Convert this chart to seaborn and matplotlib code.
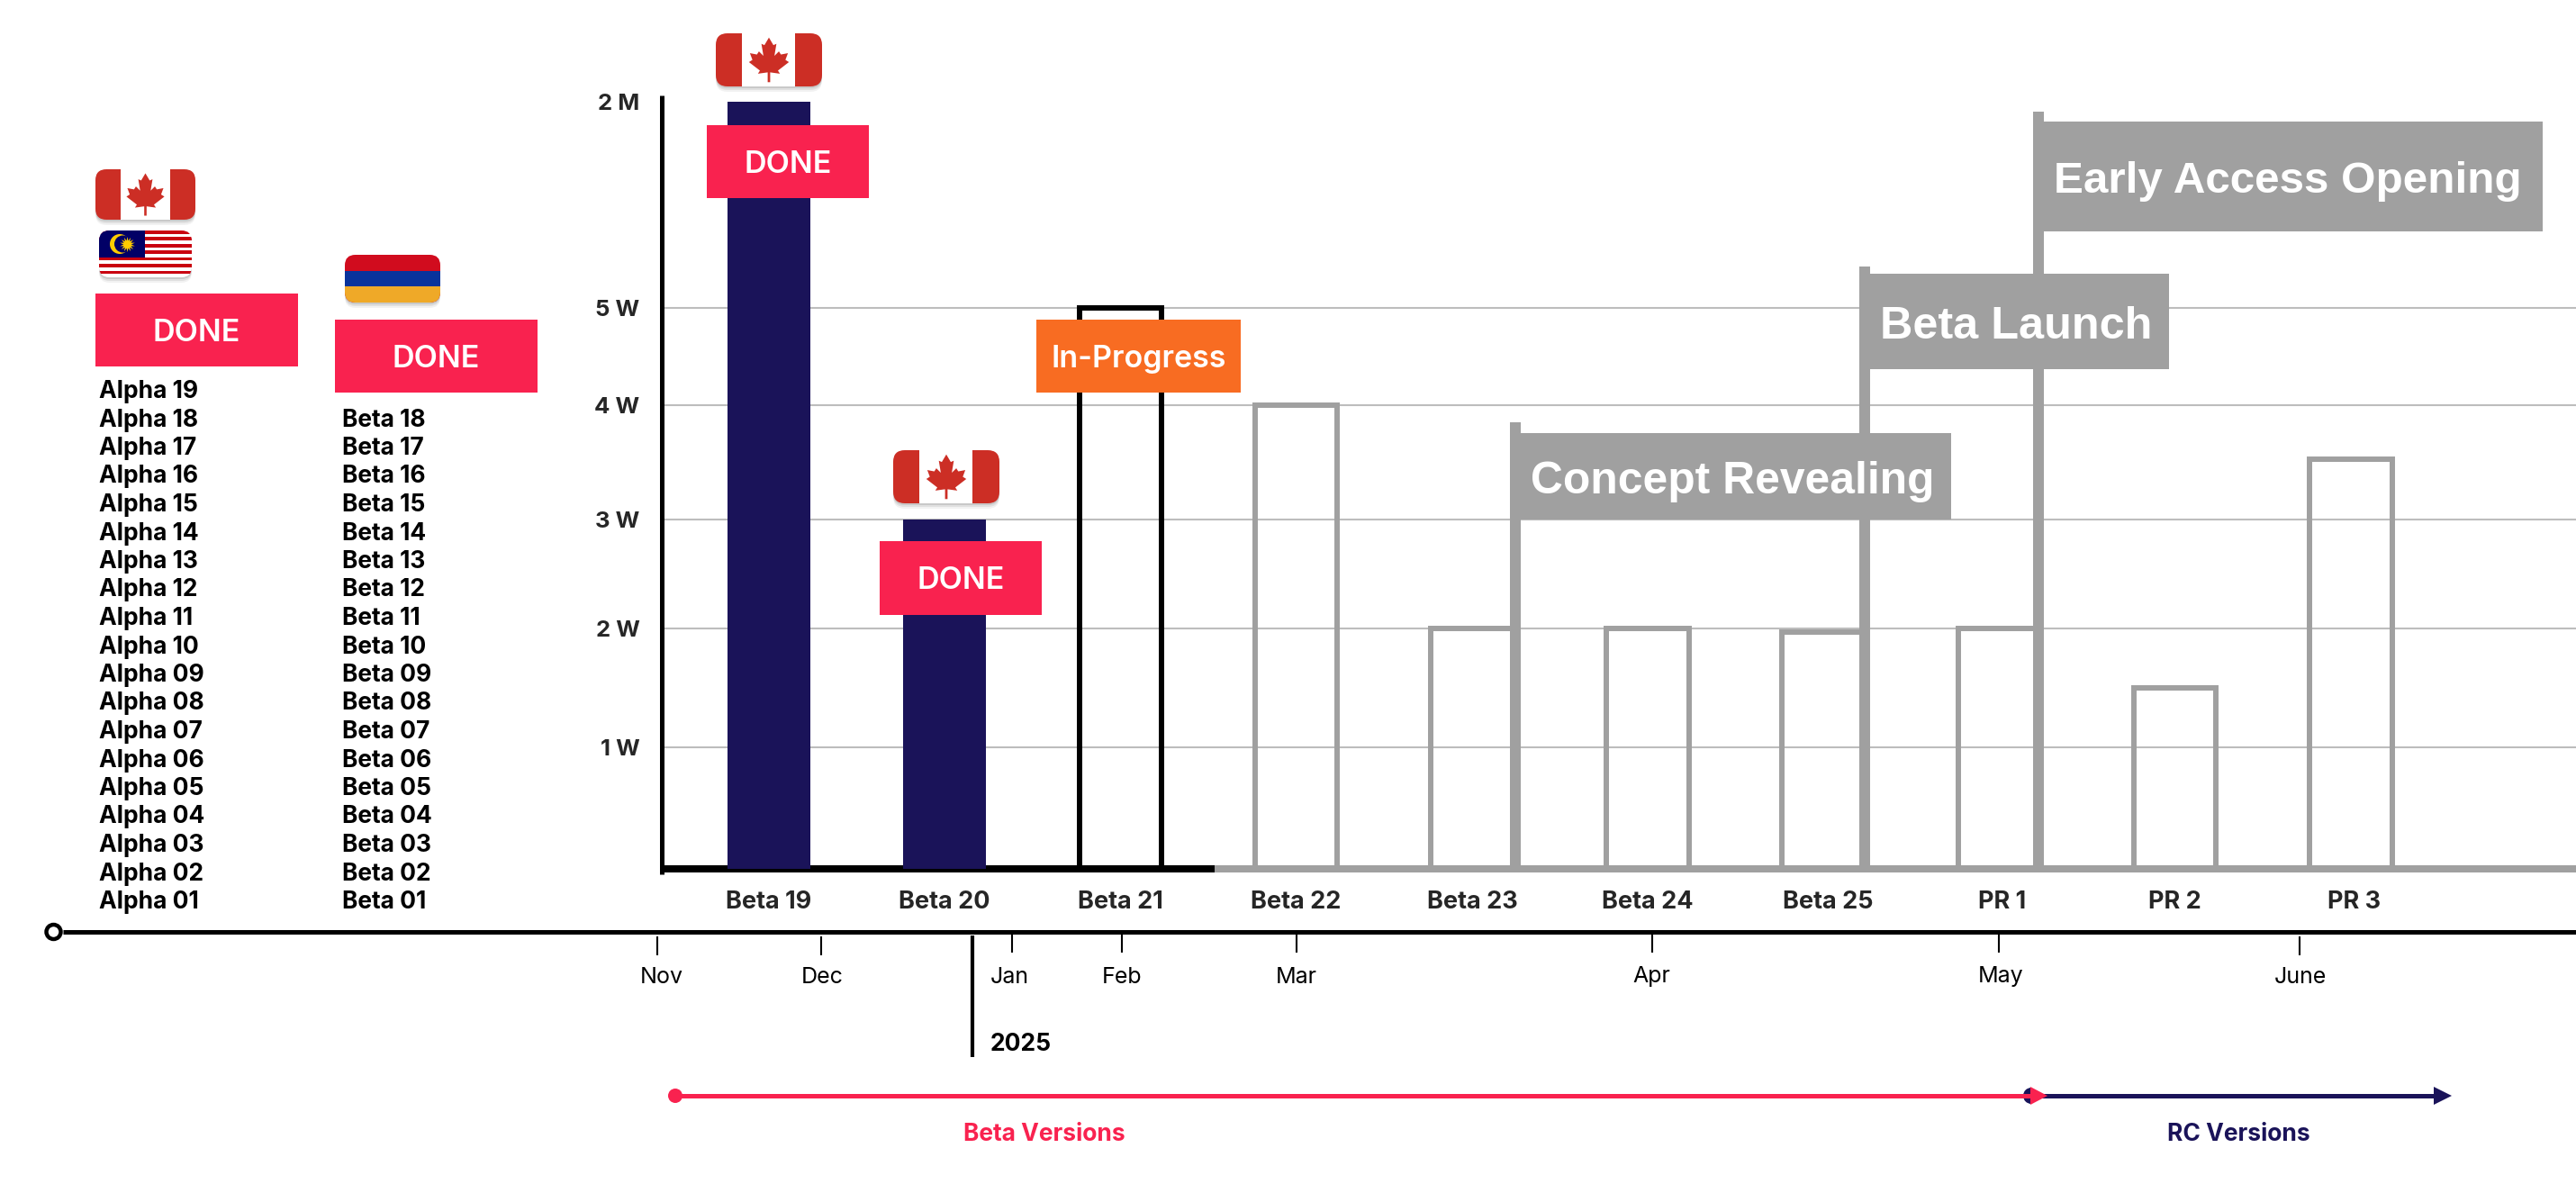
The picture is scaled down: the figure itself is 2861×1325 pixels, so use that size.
import matplotlib
matplotlib.use('Agg')
import matplotlib.pyplot as plt
from matplotlib.patches import Circle, FancyBboxPatch, Polygon, Rectangle, Wedge
from matplotlib.ticker import NullLocator
from matplotlib.transforms import ScaledTranslation
import numpy as np
import pandas as pd
import seaborn as sns

# chart values, in W (1 M = 100 W)
versions = ['Beta 19', 'Beta 20', 'Beta 21', 'Beta 22', 'Beta 23',
            'Beta 24', 'Beta 25', 'PR 1', 'PR 2', 'PR 3']
values = [200, 3, 5, 4, 2, 2, 1.97, 2, 1.5, 3.53]
status = ['done', 'done', 'progress', 'planned', 'planned',
          'planned', 'planned', 'planned', 'planned', 'planned']
y_ticks = [1, 2, 3, 4, 5, 200]
y_tick_labels = ['1 W', '2 W', '3 W', '4 W', '5 W', '2 M']
alpha_names = ['Alpha %02d' % n for n in range(19, 0, -1)]
beta_names = ['Beta %02d' % n for n in range(18, 0, -1)]
months = ['Nov', 'Dec', 'Jan', 'Feb', 'Mar', 'Apr', 'May', 'June']

# broken y axis of the original: value -> pixels above the baseline
scale_values = [0, 1, 2, 3, 4, 5, 200, 207]
scale_pixels = [0, 135, 267, 388, 515, 623, 852, 859]

# layout, in pixels of the 2861x1325 picture
month_x = [730, 912, 1124, 1246, 1440, 1835, 2220, 2554]
month_label_x = [735, 913, 1121, 1246, 1440, 1834, 2222, 2555]
month_tick_y = [(1040, 1061), (1040, 1061), (1038, 1058), (1038, 1058),
                (1038, 1058), (1038, 1058), (1038, 1058), (1040, 1061)]
label_nudge = [0, 0, 0, 0, 1, 0, 5, 3, 0, 4]

PINK = '#F9224F'
NAVY = '#1A1359'
ORANGE = '#F86C22'
GREY = '#A0A0A0'
GRID = '#BDBDBD'
RED = '#CC2E25'

sns.set_theme(style='white')
plt.rcParams['font.family'] = ['Inter', 'DejaVu Sans']

W, H = 2861, 1325
fig = plt.figure(figsize=(W / 100, H / 100), dpi=100, facecolor='white')
left, right, top, bottom = 735.5, 2861, 106, 965
ax = fig.add_axes([left / W, 1 - bottom / H, (right - left) / W, (bottom - top) / H])
ax.patch.set_alpha(0)

df = pd.DataFrame({'version': versions, 'value': values, 'status': status})
sns.barplot(data=df, x='version', y='value', hue='status', order=versions,
            hue_order=['done', 'progress', 'planned'],
            palette={'done': NAVY, 'progress': 'black', 'planned': GREY},
            dodge=False, width=0.47, saturation=1, legend=False, ax=ax)
for cont, kind in zip(ax.containers, ['done', 'progress', 'planned']):
    for bar in cont:
        bar.set_zorder(3)
        if kind == 'done':
            bar.set_linewidth(0)
        else:
            bar.set_facecolor('none')
            bar.set_edgecolor('black' if kind == 'progress' else GREY)
            bar.set_linewidth(4.3)

ax.set_yscale('function', functions=(lambda v: np.interp(v, scale_values, scale_pixels),
                                     lambda p: np.interp(p, scale_pixels, scale_values)))
ax.set_ylim(0, 207)
ax.set_xlim((left - 854) / 195.2, (right - 854) / 195.2)
ax.set_yticks(y_ticks, y_tick_labels, fontsize=18.5, fontweight='bold')
ax.yaxis.set_minor_locator(NullLocator())
ax.tick_params(axis='y', length=0, pad=18)
ax.tick_params(axis='x', length=0, pad=17)
for lab, nudge in zip(ax.get_xticklabels(), label_nudge):
    lab.set_fontsize(19.5)
    lab.set_fontweight('bold')
    lab.set_transform(lab.get_transform() + ScaledTranslation(nudge / 100, 0, fig.dpi_scale_trans))
ax.set_xlabel('')
ax.set_ylabel('')
ax.set_axisbelow(True)
ax.yaxis.grid(True, color=GRID, linewidth=1.5)
ax.get_ygridlines()[-1].set_visible(False)
sns.despine(ax=ax, left=True, bottom=True)
split = (1349 - left) / (right - left)
ax.axhline(0, xmin=0, xmax=split, color='black', lw=5.76, clip_on=False, zorder=2, solid_capstyle='butt')
ax.axhline(0, xmin=split, xmax=1, color=GREY, lw=5.76, clip_on=False, zorder=2, solid_capstyle='butt')

# everything around the bars sits on a pixel overlay
ov = fig.add_axes([0, 0, 1, 1])
ov.set_xlim(0, W)
ov.set_ylim(H, 0)
ov.axis('off')
ov.patch.set_alpha(0)
ov.vlines(735.5, 106, 971, color='black', lw=3.6)


def box(x0, y0, x1, y1, color, z=5):
    ov.add_patch(Rectangle((x0, y0), x1 - x0, y1 - y0, facecolor=color, edgecolor='none', zorder=z))


def tag(x0, y0, x1, y1, label, color):
    box(x0, y0, x1, y1, color)
    ov.text((x0 + x1) / 2, (y0 + y1) / 2, label, color='white', fontsize=24.5,
            fontweight=600, ha='center', va='center_baseline', zorder=6)


def flag_base(x0, y0, x1, y1, color):
    w, h = x1 - x0, y1 - y0
    r = h * 0.22
    for off, alpha in [(6, 0.05), (4, 0.07), (2, 0.1)]:
        ov.add_patch(FancyBboxPatch((x0, y0 + off), w, h, boxstyle='round,pad=0,rounding_size=%f' % r,
                                    facecolor='black', edgecolor='none', alpha=alpha, zorder=6))
    shape = FancyBboxPatch((x0, y0), w, h, boxstyle='round,pad=0,rounding_size=%f' % r,
                           facecolor=color, edgecolor='none', zorder=7)
    ov.add_patch(shape)
    return shape


def stripe(shape, x0, y0, x1, y1, color, z=8):
    rect = Rectangle((x0, y0), x1 - x0, y1 - y0, facecolor=color, edgecolor='none', zorder=z)
    ov.add_patch(rect)
    rect.set_clip_path(shape)


LEAF = [(0, 1), (0.18, 0.66), (0.3, 0.72), (0.22, 0.18), (0.4, 0.38), (0.48, 0.24),
        (0.76, 0.30), (0.66, 0), (0.8, -0.1), (0.36, -0.48), (0.44, -0.62),
        (0.05, -0.56), (0.05, -1)]


def canada(x0, y0, x1, y1):
    shape = flag_base(x0, y0, x1, y1, RED)
    w = x1 - x0
    stripe(shape, x0 + w * 0.25, y0, x1 - w * 0.25, y1, 'white')
    cx, cy = (x0 + x1) / 2, (y0 + y1) / 2
    s = (y1 - y0) * 0.42
    pts = LEAF + [(-a, b) for a, b in LEAF[::-1]]
    ov.add_patch(Polygon([(cx + a * s * 1.12, cy - b * s) for a, b in pts],
                         facecolor=RED, edgecolor='none', zorder=9))


def malaysia(x0, y0, x1, y1):
    shape = flag_base(x0, y0, x1, y1, 'white')
    h = (y1 - y0) / 14
    for i in range(0, 14, 2):
        stripe(shape, x0, y0 + i * h, x1, y0 + (i + 1) * h, '#C9000F')
    mid = (x0 + x1) / 2
    stripe(shape, x0, y0, mid, y0 + 8 * h, '#010066', z=9)
    cx, cy = x0 + 23, y0 + 15
    ov.add_patch(Circle((cx, cy), 11, facecolor='#FFCC00', edgecolor='none', zorder=10))
    ov.add_patch(Circle((cx + 3.5, cy), 9.5, facecolor='#010066', edgecolor='none', zorder=10))
    ov.scatter([cx + 8], [cy], s=150, marker=(14, 1, 0), color='#FFCC00', linewidths=0, zorder=11)


def armenia(x0, y0, x1, y1):
    shape = flag_base(x0, y0, x1, y1, '#D10C1E')
    h = (y1 - y0) / 3
    stripe(shape, x0, y0 + h, x1, y0 + 2 * h, '#09339C')
    stripe(shape, x0, y0 + 2 * h, x1, y1, '#EFA928')


def pole(x0, x1, y_top, bx1, by0, by1, label, size, tx):
    box(x0, y_top, x1, 965, GREY, z=4)
    box(x1, by0, bx1, by1, GREY, z=4)
    ov.text(tx, (by0 + by1) / 2 + 1, label, color='white', fontsize=size, fontweight='bold',
            family=['Liberation Sans'], ha='center', va='center_baseline', zorder=6)


# release list columns
for i, name in enumerate(alpha_names):
    ov.text(110, 435 + i * 31.5, name, fontsize=19, fontweight='bold', ha='left', va='center', color='black')
for i, name in enumerate(beta_names):
    ov.text(380, 466.5 + i * 31.5, name, fontsize=19, fontweight='bold', ha='left', va='center', color='black')

tag(106, 326, 331, 407, 'DONE', PINK)
tag(372, 355, 597, 436, 'DONE', PINK)
tag(785, 139, 965, 220, 'DONE', PINK)
tag(977, 601, 1157, 683, 'DONE', PINK)
tag(1151, 355, 1378, 436, 'In-Progress', ORANGE)

canada(106, 188, 217, 244)
malaysia(110, 256, 213, 308)
armenia(383, 283, 489, 336)
canada(795, 37, 913, 96)
canada(992, 500, 1110, 559)

pole(1677, 1689, 469, 2167, 481, 577, 'Concept Revealing', 35.8, 1924)
pole(2065, 2077, 296, 2409, 304, 410, 'Beta Launch', 36.3, 2239)
pole(2258, 2270, 124, 2824, 135, 257, 'Early Access Opening', 35.6, 2541)

# timeline
ov.plot([70, W], [1035, 1035], color='black', lw=3.6, solid_capstyle='butt')
ov.add_patch(Circle((59.5, 1035), 8, facecolor='white', edgecolor='black', linewidth=3.2, zorder=5))
for name, tx, lx, (y0, y1) in zip(months, month_x, month_label_x, month_tick_y):
    ov.vlines(tx, y0, y1, color='black', lw=1.5)
    ov.text(lx, 1085, name, fontsize=18, ha='center', va='center', color='black')
ov.vlines(1080, 1039, 1174, color='black', lw=3)
ov.text(1100, 1160, '2025', fontsize=19, fontweight='bold', ha='left', va='center', color='black')

# version ranges
ov.plot([2255, 2710], [1217, 1217], color=NAVY, lw=3.6, solid_capstyle='butt', zorder=3)
ov.add_patch(Wedge((2256, 1217), 9, 90, 270, facecolor=NAVY, edgecolor='none', zorder=3))
ov.add_patch(Polygon([(2703, 1207), (2723, 1217), (2703, 1227)], facecolor=NAVY, edgecolor='none', zorder=3))
ov.plot([750, 2260], [1217, 1217], color=PINK, lw=3.6, solid_capstyle='butt', zorder=4)
ov.add_patch(Circle((750, 1217), 8, facecolor=PINK, edgecolor='none', zorder=4))
ov.add_patch(Polygon([(2255, 1207), (2274, 1217), (2255, 1227)], facecolor=PINK, edgecolor='none', zorder=4))
ov.text(1160, 1260, 'Beta Versions', color=PINK, fontsize=19, fontweight='bold', ha='center', va='center')
ov.text(2486, 1260, 'RC Versions', color=NAVY, fontsize=19, fontweight='bold', ha='center', va='center')

fig.savefig('out.png', dpi=100)
plt.close(fig)
